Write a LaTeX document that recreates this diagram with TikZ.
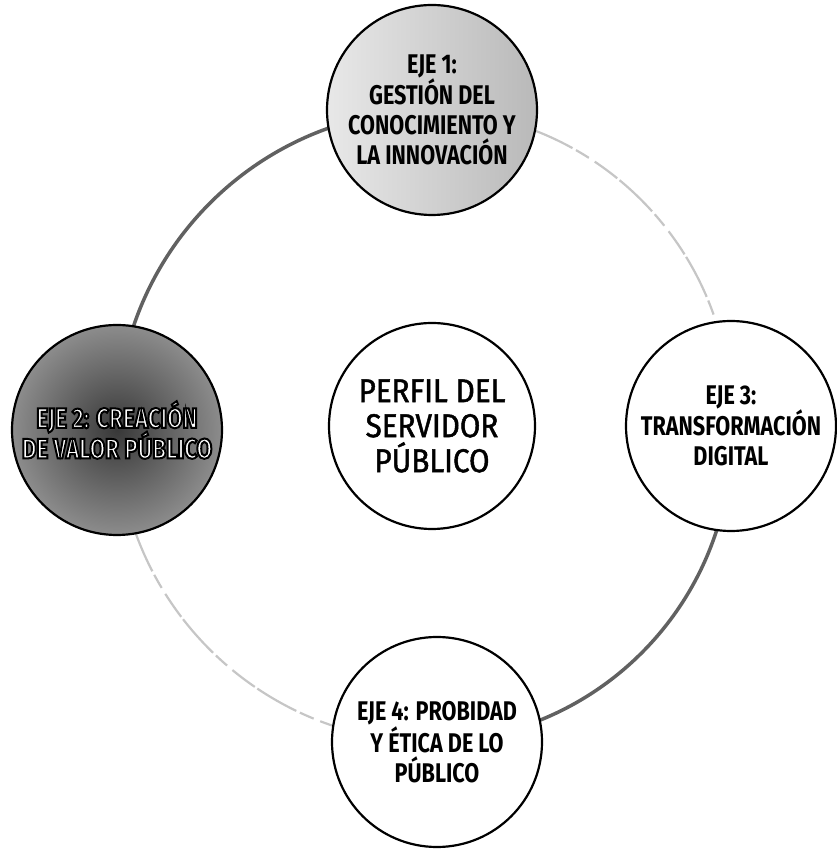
\documentclass[tikz,border=0pt]{standalone}
\usepackage{fontspec}
\setmainfont{Fira Sans}
\newfontfamily\ejefont{Fira Sans}[FakeStretch=0.8]
\newfontfamily\perfilfont{Fira Sans}[FakeStretch=0.9, FakeBold=1.4]
\newcommand{\outlined}[1]{\textcolor{white}{\special{pdf:literal direct 0 G 2 Tr 2 w}#1\special{pdf:literal direct 0 Tr}}}
\usetikzlibrary{backgrounds}
\begin{document}
\begin{tikzpicture}[x=1pt,y=1pt,
  eje/.style={circle, draw=black, line width=2.2pt, minimum size=210pt, inner sep=0pt,
    align=center, fill=white, font=\ejefont\bfseries\fontsize{27}{30}\selectfont},
  perfil/.style={circle, draw=black, line width=2.2pt, minimum size=206pt, inner sep=0pt,
    align=center, fill=white, font=\perfilfont\fontsize{33}{35}\selectfont},
  darkarc/.style={draw=black!62, line width=3.5pt},
  lightarc/.style={draw=gray!45, line width=2.2pt, dash pattern=on 45pt off 4pt on 15pt off 7pt on 28pt off 3pt}
]
\useasboundingbox (0,0) rectangle (836,849);

\node[eje, left color=gray!18, right color=gray!55] (e1) at (432,739)
  {EJE 1:\\GESTIÓN DEL\\CONOCIMIENTO Y\\LA INNOVACIÓN};
\node[eje, inner color=black!78, outer color=black!45, font=\ejefont\bfseries\fontsize{28}{30}\selectfont] (e2) at (117,419)
  {\outlined{EJE 2: CREACIÓN}\\[-2pt]\outlined{DE VALOR PÚBLICO}};
\node[eje] (e3) at (731,423) {EJE 3:\\TRANSFORMACIÓN\\DIGITAL};
\node[eje] (e4) at (437,107) {EJE 4: PROBIDAD\\Y ÉTICA DE LO\\PÚBLICO};
\node[perfil] (p) at (432,423) {PERFIL DEL\\SERVIDOR\\PÚBLICO};

\begin{pgfonlayer}{background}
\draw[darkarc] (e1.center) to[bend right=45] (e2.center);
\draw[lightarc] (e1.center) to[bend left=45] (e3.center);
\draw[darkarc] (e3.center) to[bend left=45] (e4.center);
\draw[lightarc] (e2.center) to[bend right=45] (e4.center);
\end{pgfonlayer}
\end{tikzpicture}
\end{document}
